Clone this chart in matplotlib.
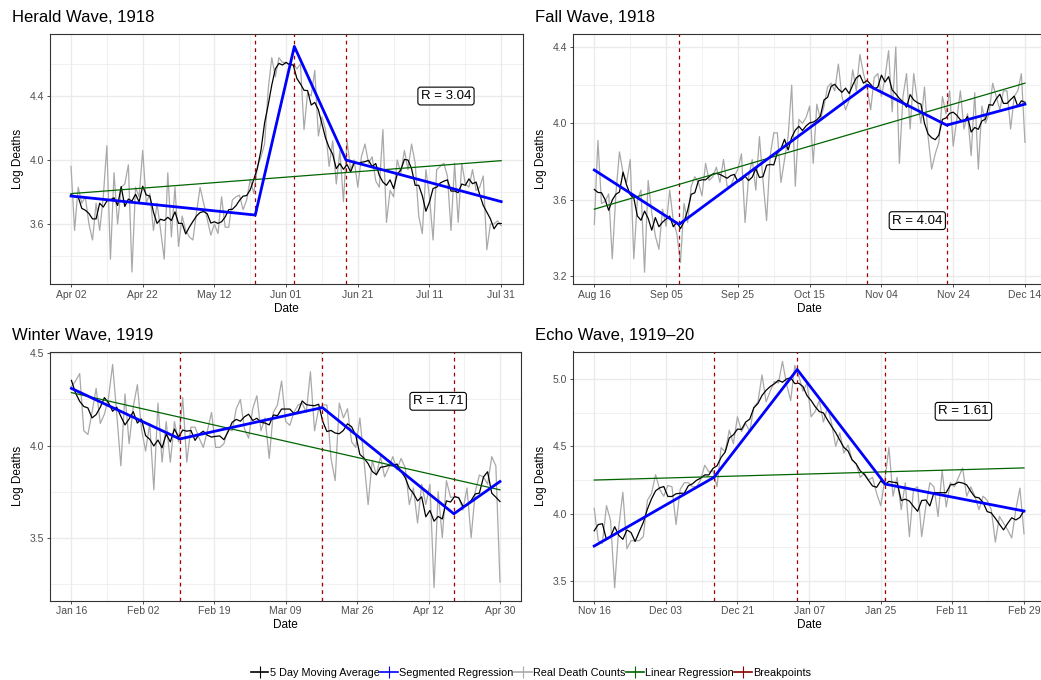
import numpy as np
import pandas as pd
import matplotlib
matplotlib.use("Agg")
import matplotlib.pyplot as plt
import matplotlib.dates as mdates
from matplotlib.lines import Line2D

plt.rcParams['font.family'] = ['Liberation Sans', 'DejaVu Sans']

# Daily log death counts per wave (day 0 = first date of the wave)
herald_start = "1918-04-02"
herald_deaths = [
    3.96, 3.56, 3.83, 3.73, 3.77, 3.60, 3.50, 3.73, 3.56, 3.77,
    4.09, 3.38, 3.92, 3.60, 3.83, 3.85, 3.97, 3.30, 3.83, 3.77,
    4.06, 3.73, 3.79, 3.56, 3.73, 3.56, 3.38, 3.92, 3.52, 3.83,
    3.46, 3.65, 3.56, 3.52, 3.50, 3.67, 3.83, 3.73, 3.63, 3.53,
    3.60, 3.54, 3.77, 3.58, 3.58, 3.75, 3.77, 3.78, 3.69, 3.75,
    3.88, 3.79, 3.96, 4.02, 4.10, 4.44, 4.64, 4.52, 4.64, 4.61,
    4.61, 4.59, 4.60, 4.57, 4.60, 4.19, 4.42, 4.40, 4.56, 4.15,
    4.27, 4.19, 3.96, 4.12, 3.85, 4.06, 3.74, 4.12, 3.94, 4.00,
    3.83, 4.02, 4.10, 3.98, 4.02, 3.87, 3.83, 4.19, 3.61, 3.81,
    3.77, 4.00, 3.92, 4.06, 3.94, 4.10, 3.98, 3.65, 3.54, 3.94,
    3.77, 3.50, 3.94, 3.96, 3.98, 3.90, 3.56, 3.98, 3.61, 3.98,
    3.85, 3.83, 3.94, 3.81, 3.83, 3.90, 3.44, 3.60, 3.60, 3.62, 3.59,
]
herald_seg_x = [0, 51.4, 62.3, 76.7, 120]
herald_seg_y = [3.775, 3.656, 4.71, 4.00, 3.74]
herald_lin_y = [3.79, 3.996]
herald_r = "R = 3.04"
herald_r_pos = (104.6, 4.40)

fall_start = "1918-08-16"
fall_deaths = [
    3.47, 3.91, 3.58, 3.59, 3.63, 3.29, 3.63, 3.85, 3.74, 3.69,
    3.81, 3.29, 3.60, 3.65, 3.22, 3.70, 3.53, 3.41, 3.34, 3.55,
    3.46, 3.65, 3.49, 3.42, 3.27, 3.58, 3.48, 3.67, 3.72, 3.69,
    3.62, 3.79, 3.70, 3.72, 3.77, 3.69, 3.81, 3.67, 3.67, 3.72,
    3.76, 3.84, 3.48, 3.72, 3.81, 3.65, 3.93, 3.70, 3.49, 3.83,
    3.95, 3.95, 3.69, 3.81, 3.93, 4.20, 3.67, 4.02, 4.00, 4.03,
    4.09, 3.79, 4.10, 4.02, 4.09, 4.19, 4.21, 4.17, 4.31, 4.14,
    4.07, 4.12, 4.28, 4.17, 4.36, 4.26, 4.19, 4.07, 4.24, 4.26,
    4.14, 4.24, 4.38, 4.06, 4.40, 3.79, 4.14, 4.26, 3.97, 4.26,
    4.12, 4.00, 4.19, 3.93, 3.76, 3.84, 3.90, 4.14, 4.05, 4.17,
    3.88, 4.02, 4.17, 3.97, 4.05, 3.83, 4.16, 3.76, 4.09, 4.00,
    4.05, 4.21, 4.14, 4.07, 4.17, 4.17, 3.97, 4.14, 4.17, 4.26, 3.90,
]
fall_seg_x = [0, 23.6, 76.1, 98.2, 120]
fall_seg_y = [3.755, 3.47, 4.20, 3.99, 4.10]
fall_lin_y = [3.55, 4.21]
fall_r = "R = 4.04"
fall_r_pos = (90.0, 3.49)

winter_start = "1919-01-16"
winter_deaths = [
    4.32, 4.35, 4.39, 4.08, 4.06, 4.18, 4.31, 4.12, 4.17, 4.26,
    4.44, 4.17, 3.89, 4.28, 4.01, 4.21, 4.33, 4.09, 3.97, 4.12,
    3.76, 4.23, 3.91, 4.13, 3.91, 4.13, 4.02, 4.26, 3.91, 4.10,
    4.10, 4.04, 3.99, 4.08, 4.18, 3.99, 3.99, 4.01, 4.09, 4.08,
    4.20, 4.25, 4.09, 4.04, 4.20, 4.27, 4.08, 4.15, 3.93, 4.18,
    4.22, 4.35, 4.13, 4.11, 4.18, 4.22, 4.23, 4.18, 4.40, 4.08,
    4.20, 4.22, 4.22, 3.93, 3.81, 4.23, 4.15, 4.20, 4.02, 3.99,
    4.15, 3.92, 3.68, 3.92, 3.84, 3.94, 3.83, 3.88, 3.94, 3.87,
    3.93, 3.88, 3.68, 3.77, 3.58, 3.79, 3.68, 3.79, 3.23, 3.75,
    3.50, 3.81, 3.72, 3.72, 3.72, 3.65, 3.77, 3.50, 3.75, 3.84,
    3.83, 3.79, 3.94, 3.89, 3.26,
]
winter_seg_x = [0, 26.3, 60.9, 92.8, 104]
winter_seg_y = [4.31, 4.036, 4.206, 3.63, 3.805]
winter_lin_y = [4.287, 3.76]
winter_r = "R = 1.71"
winter_r_pos = (89.0, 4.24)

echo_start = "1919-11-16"
echo_deaths = [
    4.04, 3.80, 3.78, 4.06, 3.95, 3.45, 3.90, 4.16, 3.74, 3.80,
    3.80, 3.80, 3.83, 4.10, 4.15, 4.29, 4.18, 4.13, 4.21, 4.20,
    3.92, 4.18, 4.23, 4.23, 4.20, 4.20, 4.25, 4.36, 4.31, 4.32,
    4.20, 4.49, 4.46, 4.62, 4.52, 4.72, 4.61, 4.67, 4.61, 4.79,
    4.83, 5.03, 4.83, 4.91, 4.98, 4.97, 5.13, 4.96, 4.84, 5.10,
    5.02, 4.91, 4.97, 4.72, 4.76, 4.84, 4.68, 4.79, 4.67, 4.50,
    4.60, 4.45, 4.51, 4.40, 4.37, 4.27, 4.30, 4.25, 4.27, 4.15,
    4.06, 4.25, 4.49, 4.13, 4.27, 4.03, 4.23, 3.83, 4.18, 4.20,
    3.83, 4.05, 4.23, 4.20, 3.98, 4.32, 4.05, 4.23, 4.20, 4.27,
    4.34, 4.13, 4.20, 4.13, 4.03, 4.13, 4.10, 4.03, 3.79, 3.98,
    3.93, 3.88, 3.82, 4.03, 4.19, 3.85,
]
echo_seg_x = [0, 29.25, 49.6, 71.1, 105]
echo_seg_y = [3.76, 4.27, 5.07, 4.22, 4.02]
echo_lin_y = [4.25, 4.34]
echo_r = "R = 1.61"
echo_r_pos = (90.2, 4.76)

titles = ["Herald Wave, 1918", "Fall Wave, 1918", "Winter Wave, 1919", "Echo Wave, 1919\u201320"]
y_limits = [(3.225, 4.786), (3.158, 4.466), (3.16, 4.51), (3.356, 5.204)]
y_ticks = [[3.6, 4.0, 4.4], [3.2, 3.6, 4.0, 4.4], [3.5, 4.0, 4.5], [3.5, 4.0, 4.5, 5.0]]

C_MA = "black"
C_SEG = "#0000FF"
C_REAL = "#A9A9A9"
C_LIN = "#006400"
C_BREAK = "#A50000"
GRID = "#EBEBEB"


def day_axis(start, offsets):
    """Date numbers for day offsets counted from start."""
    return mdates.date2num(pd.Timestamp(start)) + np.asarray(offsets, dtype=float)


def draw_wave(ax, start, deaths, seg_x, seg_y, lin_y, r_text, r_pos, ylim, yticks):
    n = len(deaths)
    days = np.arange(n)
    x = day_axis(start, days)
    ma = pd.Series(deaths).rolling(5, center=True, min_periods=1).mean()

    # x ticks: seven evenly spaced dates over the wave
    tick_off = np.linspace(0, n - 1, 7)
    ticks = day_axis(start, tick_off)
    minor = (ticks[:-1] + ticks[1:]) / 2
    pad = 0.05 * (n - 1)
    ax.set_xlim(day_axis(start, [-pad, n - 1 + pad]))
    ax.set_xticks(ticks)
    ax.set_xticklabels([mdates.num2date(t).strftime("%b %d") for t in ticks])
    ax.set_xticks(minor, minor=True)

    ax.set_ylim(*ylim)
    ax.set_yticks(yticks)
    ax.set_yticklabels([f"{t:.1f}" for t in yticks])
    step = yticks[1] - yticks[0]
    ymin = [t + step / 2 for t in [yticks[0] - step] + list(yticks)]
    ax.set_yticks([m for m in ymin if ylim[0] < m < ylim[1]], minor=True)

    ax.grid(True, which="major", color=GRID, lw=1.0, zorder=0)
    ax.grid(True, which="minor", color=GRID, lw=0.5, zorder=0)
    ax.tick_params(which="minor", length=0)
    ax.tick_params(which="major", length=2.2, width=0.6, color="#333333",
                   labelsize=7.5, labelcolor="#4D4D4D", pad=2)
    for s in ax.spines.values():
        s.set_color("#333333")
        s.set_linewidth(0.8)

    ax.plot(x, deaths, color=C_REAL, lw=0.9, zorder=2)
    ax.plot(x, ma, color=C_MA, lw=0.9, zorder=3)
    for b in seg_x[1:-1]:
        ax.axvline(day_axis(start, b), color=C_BREAK, lw=0.9,
                   ls=(0, (3, 3)), zorder=4)
    ax.plot(day_axis(start, [0, n - 1]), lin_y, color=C_LIN, lw=0.9, zorder=4)
    ax.plot(day_axis(start, seg_x), seg_y, color=C_SEG, lw=2.0, zorder=5)

    ax.text(day_axis(start, r_pos[0]), r_pos[1], r_text, fontsize=9.5,
            ha="center", va="center", zorder=6,
            bbox=dict(boxstyle="round,pad=0.22,rounding_size=0.2",
                      fc="white", ec="black", lw=0.8))

    ax.set_xlabel("Date", fontsize=8.5, labelpad=2)
    ax.set_ylabel("Log Deaths", fontsize=8.5, labelpad=4)


def main():
    fig = plt.figure(figsize=(10.41, 6.8), dpi=100)
    W, H = 1041, 680
    # panel boxes in pixels: left, top, right, bottom
    boxes = [(49.5, 34.3, 522.7, 284), (572.8, 34.3, 1046.5, 284),
             (50.0, 351.5, 521.4, 600.5), (572.7, 351.5, 1045.5, 600.5)]
    waves = [
        (herald_start, herald_deaths, herald_seg_x, herald_seg_y, herald_lin_y, herald_r, herald_r_pos),
        (fall_start, fall_deaths, fall_seg_x, fall_seg_y, fall_lin_y, fall_r, fall_r_pos),
        (winter_start, winter_deaths, winter_seg_x, winter_seg_y, winter_lin_y, winter_r, winter_r_pos),
        (echo_start, echo_deaths, echo_seg_x, echo_seg_y, echo_lin_y, echo_r, echo_r_pos),
    ]
    title_pos = [(12, 18), (535, 18), (12, 336), (535, 336)]

    for i, (box, wave) in enumerate(zip(boxes, waves)):
        l, t, r, b = box
        ax = fig.add_axes([l / W, 1 - b / H, (r - l) / W, (b - t) / H])
        draw_wave(ax, *wave, y_limits[i], y_ticks[i])
        fig.text(title_pos[i][0] / W, 1 - title_pos[i][1] / H, titles[i],
                 fontsize=12, ha="left", va="center")

    key = dict(lw=1.2, marker="|", markersize=8, markeredgewidth=0.8)
    handles = [
        Line2D([0], [0], color=C_MA, **key),
        Line2D([0], [0], color=C_SEG, **key),
        Line2D([0], [0], color=C_REAL, **key),
        Line2D([0], [0], color=C_LIN, **key),
        Line2D([0], [0], color="#8B0000", **key),
    ]
    labels = ["5 Day Moving Average", "Segmented Regression", "Real Death Counts",
              "Linear Regression", "Breakpoints"]
    fig.legend(handles, labels, loc="center", bbox_to_anchor=(531 / W, 1 - 673 / H),
               ncol=5, frameon=False, fontsize=7.8, handlelength=1.6,
               handletextpad=0.1, columnspacing=0.1, borderpad=0)

    fig.savefig("out.png", dpi=100)


if __name__ == "__main__":
    main()
